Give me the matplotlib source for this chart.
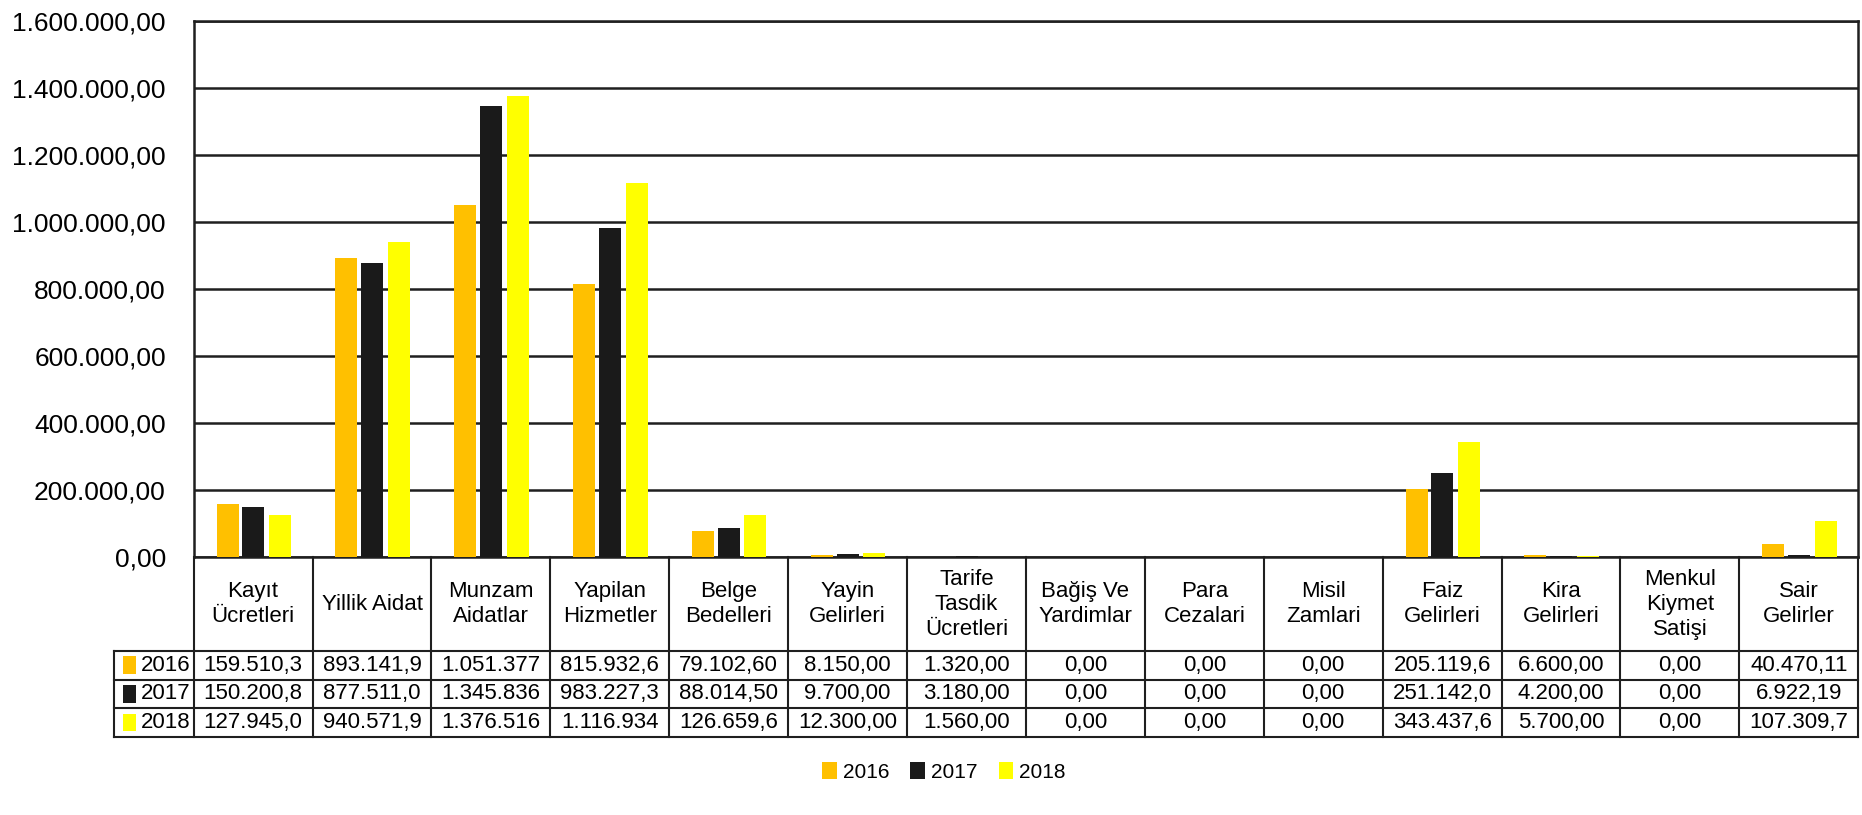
import matplotlib
matplotlib.use('Agg')
import matplotlib.pyplot as plt
import matplotlib.transforms as mtransforms
from matplotlib.patches import Rectangle, Patch
from matplotlib.lines import Line2D
from matplotlib.ticker import FuncFormatter

plt.rcParams['font.family'] = ['Liberation Sans', 'DejaVu Sans']

categories = ['Kayıt\nÜcretleri', 'Yillik Aidat', 'Munzam\nAidatlar', 'Yapilan\nHizmetler',
              'Belge\nBedelleri', 'Yayin\nGelirleri', 'Tarife\nTasdik\nÜcretleri',
              'Bağiş Ve\nYardimlar', 'Para\nCezalari', 'Misil\nZamlari', 'Faiz\nGelirleri',
              'Kira\nGelirleri', 'Menkul\nKiymet\nSatişi', 'Sair\nGelirler']
years = ['2016', '2017', '2018']
v2016 = [159510.3, 893141.9, 1051377, 815932.6, 79102.60, 8150.00, 1320.00,
         0, 0, 0, 205119.6, 6600.00, 0, 40470.11]
v2017 = [150200.8, 877511.0, 1345836, 983227.3, 88014.50, 9700.00, 3180.00,
         0, 0, 0, 251142.0, 4200.00, 0, 6922.19]
v2018 = [127945.0, 940571.9, 1376516, 1116934, 126659.6, 12300.00, 1560.00,
         0, 0, 0, 343437.6, 5700.00, 0, 107309.7]
series = [v2016, v2017, v2018]
colors = ['#FFC000', '#1A1A1A', '#FFFF00']


def tr_fmt(v):
    s = f'{v:,.2f}'
    return s.replace(',', '#').replace('.', ',').replace('#', '.')


def cell_fmt(v):
    # excel cuts the number to fit the cell
    return tr_fmt(v)[:9].rstrip(',')


fig = plt.figure(figsize=(18.62, 8.15), dpi=100)
L, R, T, B = 0.104, 0.998, 0.974, 0.316
ax = fig.add_axes([L, B, R - L, T - B])

n = len(categories)
xs = list(range(n))
off = [-0.215, 0.0, 0.225]
for k in range(3):
    ax.bar([x + off[k] for x in xs], series[k], width=0.185, color=colors[k], zorder=3)

ax.set_xlim(-0.5, n - 0.5)
ax.set_ylim(0, 1600000)
ax.set_yticks(range(0, 1600001, 200000))
ax.yaxis.set_major_formatter(FuncFormatter(lambda v, p: tr_fmt(v)))
ax.tick_params(axis='y', length=0, pad=20, labelsize=19)
ax.set_xticks([])
ax.grid(axis='y', color='#1f1f1f', linewidth=1.8, zorder=0)
for s in ax.spines.values():
    s.set_color('#1f1f1f')
    s.set_linewidth(1.8)

# data table below the plot
tr = mtransforms.blended_transform_factory(ax.transData, fig.transFigure)
lc = '#1f1f1f'
cat_bot = 0.201
rows = [0.201, 0.166, 0.131, 0.096]
tab_left = 0.061
left_data = -0.5 - (L - tab_left) / ((R - L) / n)

for i in range(n + 1):
    fig.add_artist(Line2D([i - 0.5, i - 0.5], [B, rows[-1]], transform=tr, color=lc, lw=1.5))
for y in rows:
    fig.add_artist(Line2D([left_data, n - 0.5], [y, y], transform=tr, color=lc, lw=1.5))
fig.add_artist(Line2D([left_data, left_data], [rows[0], rows[-1]], transform=tr, color=lc, lw=1.5))

for i, c in enumerate(categories):
    fig.text(i, (B + cat_bot) / 2, c, transform=tr, ha='center', va='center',
             fontsize=16, linespacing=1.25)

for k in range(3):
    yc = (rows[k] + rows[k + 1]) / 2
    fig.add_artist(Rectangle((left_data + 0.08, yc - 0.011), 0.11, 0.022, transform=tr,
                             facecolor=colors[k], edgecolor='none'))
    fig.text(left_data + 0.23, yc, years[k], transform=tr, ha='left', va='center', fontsize=16)
    for i in range(n):
        fig.text(i, yc, cell_fmt(series[k][i]), transform=tr, ha='center', va='center',
                 fontsize=16)

handles = [Patch(facecolor=colors[k], edgecolor='none', label=years[k]) for k in range(3)]
fig.legend(handles=handles, loc='center', bbox_to_anchor=(0.507, 0.053), ncol=3,
           frameon=False, fontsize=15, handlelength=0.7, handleheight=0.9,
           handletextpad=0.3, columnspacing=1.0)

fig.savefig('out.png', dpi=100)
